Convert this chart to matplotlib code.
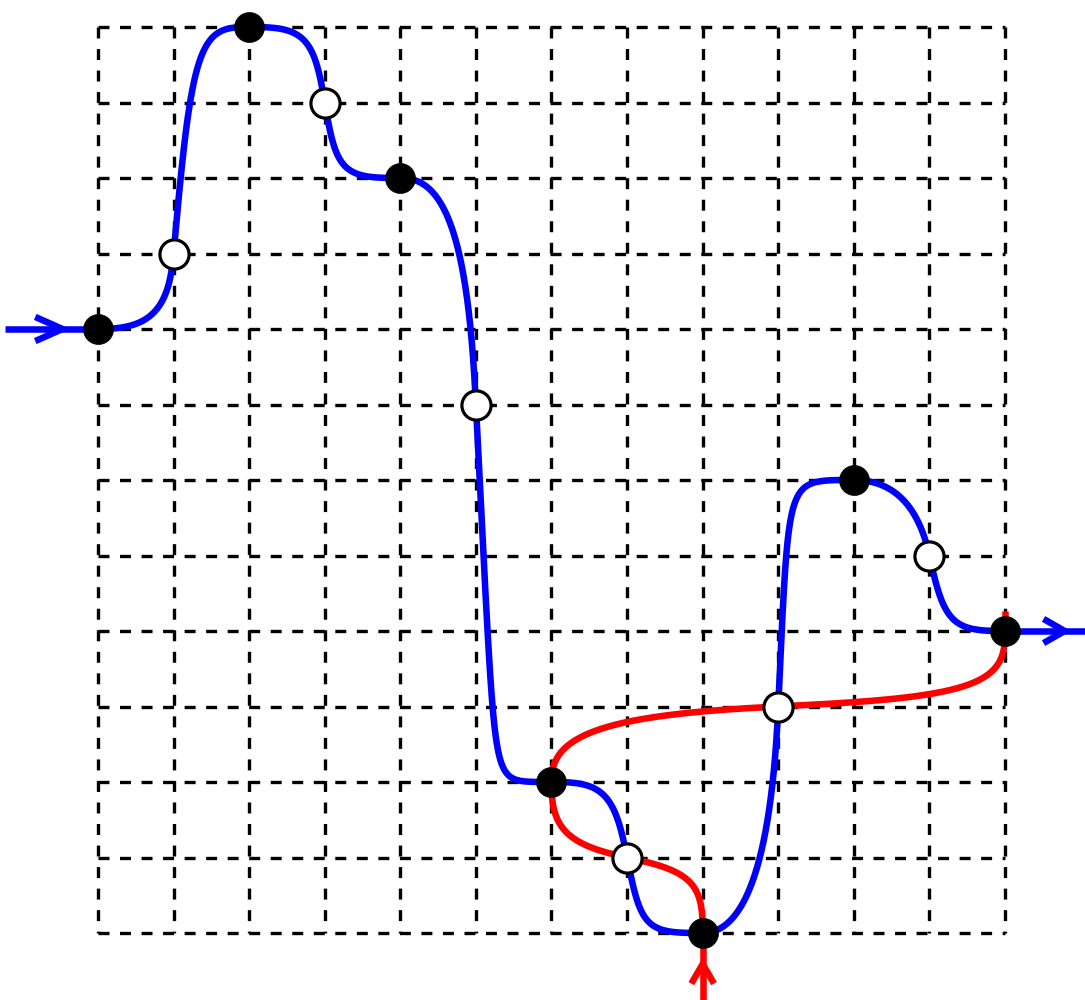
import numpy as np
import matplotlib
matplotlib.use("Agg")
import matplotlib.pyplot as plt

# ---- data ----
grid_ticks = list(range(13))

blue_x = [0, 1, 2, 3, 4, 5, 6, 7, 8, 9, 10, 11, 12]
blue_y = [8, 9, 12, 11, 10, 7, 2, 1, 0, 3, 6, 5, 4]
blue_open = [False, True, False, True, False, True, False, True, False, True, False, True, False]
# dx/dy of the curve at open points
blue_slope = [0, 0.09, 0, 0.17, 0, 0.05, 0, 0.2, 0, 0.045, 0, 0.22, 0]
# corner tightness of each segment
blue_q = [0.45, 0.37, 0.39, 0.37, 0.47, 0.28, 0.40, 0.36, 0.50, 0.31, 0.50, 0.38]

red_x = [8, 7, 6, 9, 12]
red_y = [0, 1, 2, 3, 4]
red_open = [False, True, False, True, False]
# dy/dx of the curve at open points
red_slope = [0, 0.22, 0, 0.05, 0]
red_q = [0.40, 0.43, 0.45, 0.40]

BLUE = "#0000ff"
RED = "#ff0000"
LW = 4.7

plt.rcParams["lines.scale_dashes"] = False

W, H = 1085, 1000
fig = plt.figure(figsize=(W / 100, H / 100), dpi=100)
ax = fig.add_axes([0, 0, 1, 1])
sx = (1005 - 98) / 12.0
sy = (933 - 27) / 12.0
ax.set_xlim(-98 / sx, (W - 98) / sx)
ax.set_ylim(-(H - 933) / sy, 12 + 27 / sy)
ax.axis("off")

# grid
dash = (0, (7.9, 7.6))
for t in grid_ticks:
    ax.plot([t, t], [grid_ticks[-1], grid_ticks[0]], color="black", lw=2.4,
            linestyle=dash, zorder=1, dash_capstyle="butt")
    ax.plot([grid_ticks[0], grid_ticks[-1]], [t, t], color="black", lw=2.4,
            linestyle=dash, zorder=1, dash_capstyle="butt")


def corner_seg(P0, C, P1, q, n=600):
    th = np.linspace(0, np.pi / 2, n)
    u = np.cos(th) ** (2.0 / q)
    v = np.sin(th) ** (2.0 / q)
    P0, C, P1 = map(np.asarray, (P0, C, P1))
    pts = C[None, :] + u[:, None] * (P0 - C)[None, :] + v[:, None] * (P1 - C)[None, :]
    return pts


def build(xs, ys, opens, slopes, qs, horizontal_at_filled):
    out = []
    for i in range(len(xs) - 1):
        A = (xs[i], ys[i]); B = (xs[i + 1], ys[i + 1])
        if opens[i]:
            O, F, so = A, B, slopes[i]
        else:
            O, F, so = B, A, slopes[i + 1]
        if horizontal_at_filled:
            cx = O[0] + np.sign(F[0] - O[0]) * so * abs(F[1] - O[1])
            C = (cx, F[1])
        else:
            cy = O[1] + np.sign(F[1] - O[1]) * so * abs(F[0] - O[0])
            C = (F[0], cy)
        out.append(corner_seg(A, C, B, qs[i]))
    return np.vstack(out)


blue_pts = build(blue_x, blue_y, blue_open, blue_slope, blue_q, True)
red_pts = build(red_x, red_y, red_open, red_slope, red_q, False)

x_lo, x_hi = ax.get_xlim()
y_lo, y_hi = ax.get_ylim()

# blue: entry and exit leads
ax.plot([blue_x[0] - 1.23, blue_x[0]], [blue_y[0], blue_y[0]], color=BLUE, lw=LW,
        zorder=3, solid_capstyle="butt")
ax.plot([blue_x[-1], x_hi], [blue_y[-1], blue_y[-1]], color=BLUE, lw=LW, zorder=3,
        solid_capstyle="butt")
ax.plot(blue_pts[:, 0], blue_pts[:, 1], color=BLUE, lw=LW, zorder=3,
        solid_capstyle="round", solid_joinstyle="round")

# red: entry lead and exit stub
ax.plot([red_x[0], red_x[0]], [y_lo, red_y[0]], color=RED, lw=LW, zorder=4,
        solid_capstyle="butt")
ax.plot(red_pts[:, 0], red_pts[:, 1], color=RED, lw=LW, zorder=4,
        solid_capstyle="butt", solid_joinstyle="round")
ax.plot([red_x[-1], red_x[-1]], [red_y[-1], red_y[-1] + 0.27], color=RED, lw=LW,
        zorder=4, solid_capstyle="butt")


def chevron(tip, back, half, vertical, color):
    tx, ty = tip
    if vertical:
        xs = [tx - half, tx, tx + half]
        ys = [ty - back, ty, ty - back]
    else:
        xs = [tx - back, tx, tx - back]
        ys = [ty + half, ty, ty - half]
    ax.plot(xs, ys, color=color, lw=LW, zorder=5, solid_joinstyle="miter",
            solid_capstyle="butt")


chevron((blue_x[0] - 0.47, blue_y[0]), 0.36, 0.16, False, BLUE)
chevron((blue_x[-1] + 0.79, blue_y[-1]), 0.28, 0.16, False, BLUE)
chevron((red_x[0], red_y[0] - 0.41), 0.26, 0.15, True, RED)

# markers
bx = np.array(blue_x); by = np.array(blue_y); bo = np.array(blue_open)
ax.plot(bx[~bo], by[~bo], "o", ms=21.6, mfc="black", mec="black", mew=0.5, zorder=6,
        linestyle="none")
ax.plot(bx[bo], by[bo], "o", ms=21.0, mfc="white", mec="black", mew=2.3, zorder=6,
        linestyle="none")

fig.savefig("out.png", dpi=100)
